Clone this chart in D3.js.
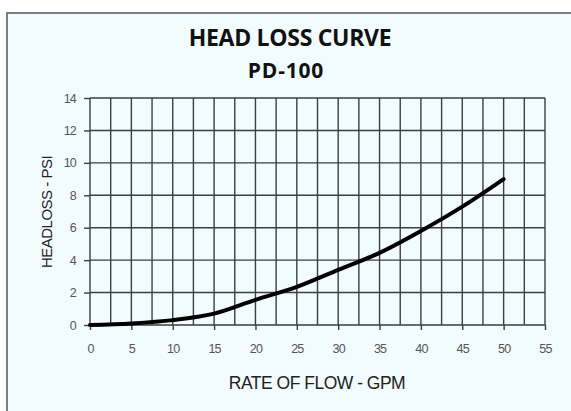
<!DOCTYPE html>
<html lang="en">
<head>
    <meta charset="UTF-8">
    <title>Head loss curve</title>
    <script src="https://cdn.jsdelivr.net/npm/d3@7"></script>
    <style>
        body { margin: 0; background: #fff; }
        svg { display: block; }
    </style>
</head>
<body>
<script>
    var width = 571, height = 411;

    // flow (GPM) and head loss (PSI)
    var flow = [0, 5, 10, 15, 20, 25, 30, 35, 40, 45, 50];
    var headLoss = [0, 0.1, 0.3, 0.7, 1.55, 2.35, 3.4, 4.45, 5.8, 7.3, 9.0];
    var xTicks = [0, 5, 10, 15, 20, 25, 30, 35, 40, 45, 50, 55];
    var yTicks = [0, 2, 4, 6, 8, 10, 12, 14];

    var svg = d3.select("body").append("svg")
        .attr("width", width)
        .attr("height", height);

    // frame
    svg.append("rect")
        .attr("x", 7).attr("y", 13)
        .attr("width", 580).attr("height", 420)
        .attr("fill", "#f2fbfd")
        .attr("stroke", "#7a8080")
        .attr("stroke-width", 2);

    var x = d3.scaleLinear().domain([0, 55]).range([90, 545]);
    var y = d3.scaleLinear().domain([0, 14]).range([325, 98]);

    // vertical grid every 2.5
    var vLines = d3.range(0, 55.01, 2.5);
    svg.selectAll("line.v")
        .data(vLines)
        .enter()
        .append("line")
        .attr("x1", function (d) { return x(d); })
        .attr("x2", function (d) { return x(d); })
        .attr("y1", y(14))
        .attr("y2", y(0))
        .attr("stroke", "#3a3f3f")
        .attr("stroke-width", 1.4);

    svg.selectAll("line.h")
        .data(yTicks)
        .enter()
        .append("line")
        .attr("x1", x(0))
        .attr("x2", x(55))
        .attr("y1", function (d) { return y(d); })
        .attr("y2", function (d) { return y(d); })
        .attr("stroke", "#3a3f3f")
        .attr("stroke-width", 1.4);

    // axes (ticks stick out a bit)
    var xAxis = d3.axisBottom(x).tickValues(xTicks).tickSize(5).tickPadding(14);
    var yAxis = d3.axisLeft(y).tickValues(yTicks).tickSize(6).tickPadding(8);

    var gx = svg.append("g").attr("transform", "translate(0," + y(0) + ")").call(xAxis);
    var gy = svg.append("g").attr("transform", "translate(" + x(0) + ",0)").call(yAxis);

    [gx, gy].forEach(function (g) {
        g.select(".domain").remove();
        g.selectAll("line").attr("stroke", "#3a3f3f").attr("stroke-width", 1.4);
        g.selectAll("text")
            .attr("fill", "#555")
            .attr("font-family", "Liberation Sans, Arial, sans-serif")
            .attr("font-size", 12.5)
            .attr("letter-spacing", -0.8);
    });

    // curve
    var line = d3.line()
        .x(function (d, i) { return x(flow[i]); })
        .y(function (d) { return y(d); })
        .curve(d3.curveMonotoneX);

    svg.append("path")
        .datum(headLoss)
        .attr("d", line)
        .attr("fill", "none")
        .attr("stroke", "#000")
        .attr("stroke-width", 4)
        .attr("stroke-linecap", "round");

    // titles
    svg.append("text")
        .attr("x", 290).attr("y", 46)
        .attr("text-anchor", "middle")
        .attr("font-family", "Open Sans, sans-serif")
        .attr("font-weight", "bold")
        .attr("font-size", 23)
        .attr("letter-spacing", -0.3)
        .attr("fill", "#111")
        .text("HEAD LOSS CURVE");

    svg.append("text")
        .attr("x", 286).attr("y", 78)
        .attr("text-anchor", "middle")
        .attr("font-family", "Open Sans, sans-serif")
        .attr("font-weight", "bold")
        .attr("font-size", 21)
        .attr("letter-spacing", 0.8)
        .attr("fill", "#111")
        .text("PD-100");

    svg.append("text")
        .attr("transform", "translate(52,212) rotate(-90)")
        .attr("text-anchor", "middle")
        .attr("font-family", "Liberation Sans, Arial, sans-serif")
        .attr("font-size", 15)
        .attr("letter-spacing", -0.5)
        .attr("fill", "#222")
        .text("HEADLOSS - PSI");

    svg.append("text")
        .attr("x", 317).attr("y", 389)
        .attr("text-anchor", "middle")
        .attr("font-family", "Liberation Sans, Arial, sans-serif")
        .attr("font-size", 17.5)
        .attr("letter-spacing", -0.5)
        .attr("fill", "#222")
        .text("RATE OF FLOW  - GPM");
</script>
</body>
</html>
